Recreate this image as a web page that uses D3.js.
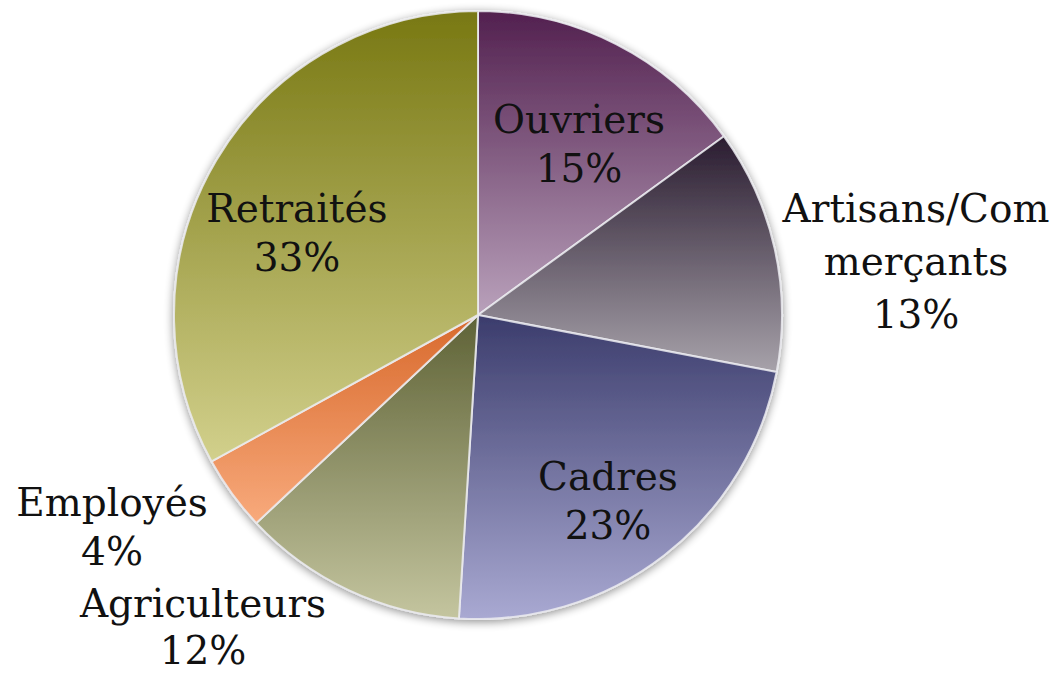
<!DOCTYPE html>
<html>
<head>
<meta charset="utf-8">
<script src="https://cdn.jsdelivr.net/npm/d3@7"></script>
<style>
  body { margin: 0; background: #fff; }
  text { font-family: Rockwell, "DejaVu Serif", serif; fill: #111; }
</style>
</head>
<body>
<svg id="chart"></svg>
<script>
// Data
const categories = ["Ouvriers", "Artisans/Commerçants", "Cadres", "Agriculteurs", "Employés", "Retraités"];
const values = [15, 13, 23, 12, 4, 33];
const labelLines = [["Ouvriers"], ["Artisans/Com", "merçants"], ["Cadres"], ["Agriculteurs"], ["Employés"], ["Retraités"]];

// gradient colors per slice (top, bottom)
const topColors = ["#52204f", "#2a1c30", "#3b3c6c", "#5e6236", "#d8692c", "#787812"];
const bottomColors = ["#b9a1bb", "#a7a2aa", "#a9a9d2", "#c4c59f", "#f8aa7c", "#d2d08c"];

// label anchors (center x, first baseline, line step)
const labelPos = [[579, 133, 49], [916, 222, 53], [608, 490, 49], [203, 617, 47], [112, 516, 49], [297, 222, 49]];

const width = 1057, height = 679;
const cx = 478, cy = 315, radius = 304;

const svg = d3.select("#chart")
  .attr("width", width)
  .attr("height", height);

const defs = svg.append("defs");

// soft shadow round the pie
const shadow = defs.append("filter").attr("id", "shadow")
  .attr("x", "-10%").attr("y", "-10%").attr("width", "120%").attr("height", "120%");
shadow.append("feGaussianBlur").attr("in", "SourceAlpha").attr("stdDeviation", 5);
shadow.append("feOffset").attr("dx", 0).attr("dy", 2).attr("result", "blur");
shadow.append("feComponentTransfer").append("feFuncA").attr("type", "linear").attr("slope", 0.45);
const merge = shadow.append("feMerge");
merge.append("feMergeNode");
merge.append("feMergeNode").attr("in", "SourceGraphic");

const pie = d3.pie().sort(null).value(d => d);
const arcs = pie(values);
const arc = d3.arc().innerRadius(0).outerRadius(radius);

// one vertical gradient per slice, spanning the slice's own height
arcs.forEach((a, i) => {
  const b = sliceBounds(a);
  const grad = defs.append("linearGradient")
    .attr("id", "g" + i)
    .attr("gradientUnits", "userSpaceOnUse")
    .attr("x1", 0).attr("x2", 0)
    .attr("y1", b[0]).attr("y2", b[1]);
  grad.append("stop").attr("offset", 0).attr("stop-color", topColors[i]);
  grad.append("stop").attr("offset", 1).attr("stop-color", bottomColors[i]);
});

const g = svg.append("g")
  .attr("transform", `translate(${cx},${cy})`);

g.append("g")
  .attr("filter", "url(#shadow)")
  .selectAll("path")
  .data(arcs)
  .enter().append("path")
  .attr("d", arc)
  .attr("fill", (d, i) => `url(#g${i})`)
  .attr("stroke", "rgba(235,235,240,0.85)")
  .attr("stroke-width", 2)
  .attr("stroke-linejoin", "round");

// labels
const lbl = svg.append("g").selectAll("text")
  .data(arcs)
  .enter().append("text")
  .attr("text-anchor", "middle")
  .style("font-size", "39px")
  .attr("x", (d, i) => labelPos[i][0])
  .attr("y", (d, i) => labelPos[i][1]);

lbl.each(function(d, i) {
  const t = d3.select(this);
  const lines = labelLines[i].concat([values[i] + "%"]);
  lines.forEach((s, k) => {
    t.append("tspan")
      .attr("x", labelPos[i][0])
      .attr("dy", k === 0 ? 0 : labelPos[i][2])
      .text(s);
  });
});

function sliceBounds(a) {
  // min/max y of slice relative to center
  const ys = [0];
  const steps = 60;
  for (let k = 0; k <= steps; k++) {
    const t = a.startAngle + (a.endAngle - a.startAngle) * k / steps;
    ys.push(-radius * Math.cos(t));
  }
  return [d3.min(ys), d3.max(ys)];
}
</script>
</body>
</html>
